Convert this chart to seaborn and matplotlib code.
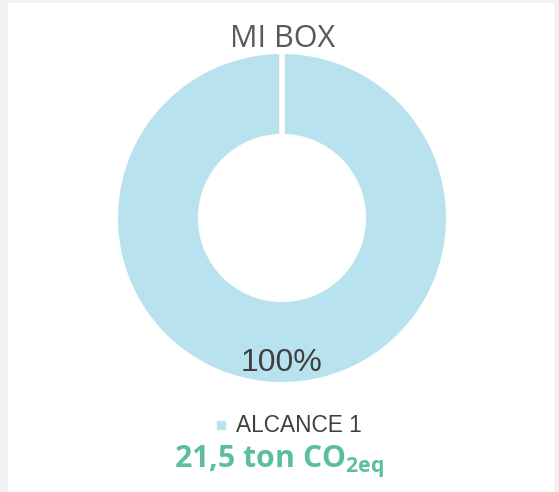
import matplotlib.pyplot as plt
import seaborn as sns
from matplotlib.lines import Line2D
from matplotlib.patches import Rectangle

sns.set_theme(style="white")

title = "MI BOX"
labels = ["ALCANCE 1"]
values = [21.5]
colors = ["#b8e3ee"]
total_text = r"21,5 ton CO$_{\mathregular{2eq}}$"

W, H = 559, 492
ring_width = 0.51

fig = plt.figure(figsize=(W / 100, H / 100), dpi=100)
fig.patch.set_facecolor("#f2f2f2")
fig.patches.append(Rectangle((8 / W, 0), (554 - 8) / W, (H - 3) / H,
                             transform=fig.transFigure, facecolor="white",
                             edgecolor="none", zorder=-5))

# donut centred at (282, 218) px, outer radius ~166 px
r = 166.5
ax = fig.add_axes([(282 - r) / W, (H - 218 - r) / H, 2 * r / W, 2 * r / H])
ax.set_zorder(2)
ax.patch.set_alpha(0)
wedges, _, autotexts = ax.pie(values, colors=colors, startangle=90, counterclock=False,
                              autopct="%1.0f%%", pctdistance=0.87,
                              wedgeprops=dict(width=ring_width, edgecolor="white", linewidth=3.6),
                              textprops=dict(color="#404040", fontsize=23,
                                             family="Liberation Sans"))
# slice border at the start angle (full ring has no radial edge)
ax.plot([0, 0], [1 - ring_width - 0.02, 1.02], color="white", lw=4, solid_capstyle="butt")
ax.set_xlim(-1, 1)
ax.set_ylim(-1, 1)
ax.axis("off")

fig.text(283 / W, 1 - 47 / H, title, ha="center", va="baseline",
         fontsize=22, color="#595959", family="Open Sans")

handles = [Line2D([], [], marker="s", linestyle="none", markersize=6,
                  markerfacecolor=c, markeredgecolor=c) for c in colors]
fig.legend(handles, labels, loc="center", bbox_to_anchor=(288 / W, 1 - 426 / H),
           frameon=False, handlelength=0.6, handletextpad=0.4,
           prop=dict(family="Liberation Sans", size=16.3), labelcolor="#404040")

fig.text(279 / W, 1 - 468 / H, total_text, ha="center", va="baseline",
         fontsize=21.8, fontweight="bold", color="#5bbf9f", family="Open Sans")

fig.savefig("out.png", dpi=100, facecolor=fig.get_facecolor())
